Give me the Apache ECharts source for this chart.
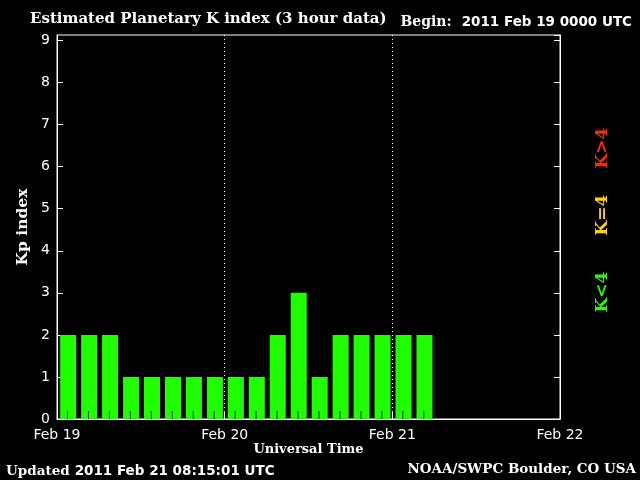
<!DOCTYPE html>
<html>
<head>
<meta charset="utf-8">
<script src="https://cdn.jsdelivr.net/npm/echarts@6/dist/echarts.min.js"></script>
<style>html,body{margin:0;padding:0;background:#000;}#chart{width:640px;height:480px;}</style>
</head>
<body>
<div id="chart"></div>
<script>
// ---- data ----
const dayLabels = ['Feb 19', 'Feb 20', 'Feb 21', 'Feb 22'];
const barStartHours = [0, 3, 6, 9, 12, 15, 18, 21, 24, 27, 30, 33, 36, 39, 42, 45, 48, 51];
const kpValues = [2, 2, 2, 1, 1, 1, 1, 1, 1, 1, 2, 3, 1, 2, 2, 2, 2, 2];
const yTicks = [0, 1, 2, 3, 4, 5, 6, 7, 8, 9];
const titleText = 'Estimated Planetary K index (3 hour data)';
const beginText = '2011 Feb 19 0000 UTC';
const updatedText = '2011 Feb 21 08:15:01 UTC';
const creditText = 'NOAA/SWPC Boulder, CO USA';

const GREEN = '#20ff00', YELLOW = '#ffd200', RED = '#ff2a00';
const SERIF = 'DejaVu Serif';
const SANS = 'DejaVu Sans';

function kColor(v) { return v > 4 ? RED : (v === 4 ? YELLOW : GREEN); }

const barData = kpValues.map((v, i) => ({
  value: [barStartHours[i] + 1.6, v],
  itemStyle: { color: kColor(v) }
}));
const tickData = kpValues.map((v, i) => [barStartHours[i] + 1.5, 0]);

const chart = echarts.init(document.getElementById('chart'), null, { renderer: 'canvas' });
const yAxisBase = {
  type: 'value', min: 0, max: 9.13, interval: 1,
  axisLine: { show: true, onZero: false, lineStyle: { color: '#fff', width: 1 } },
  axisTick: { show: true, inside: true, length: 6, lineStyle: { color: '#fff' } },
  splitLine: { show: false }
};
chart.setOption({
  backgroundColor: '#000',
  animation: false,
  title: [
    { text: titleText, left: 25, top: 7, textStyle: { color: '#fff', fontFamily: SERIF, fontWeight: 'bold', fontSize: 15 } },
    { text: '{b|Begin:}  {n|' + beginText + '}', right: 3, top: 8,
      textStyle: { rich: {
        b: { color: '#fff', fontFamily: SERIF, fontWeight: 'bold', fontSize: 14 },
        n: { color: '#fff', fontFamily: SANS, fontSize: 13.5 } } } },
    { text: '{b|Updated} {n|' + updatedText + '}', left: 1, top: 457,
      textStyle: { rich: {
        b: { color: '#fff', fontFamily: SERIF, fontWeight: 'bold', fontSize: 13.5 },
        n: { color: '#fff', fontFamily: SANS, fontSize: 13.5 } } } },
    { text: creditText, right: -1, top: 457, textStyle: { color: '#fff', fontFamily: SERIF, fontWeight: 'bold', fontSize: 13.5 } }
  ],
  grid: { left: 57, right: 80, top: 35, bottom: 61, show: true, borderColor: '#fff', borderWidth: 1, backgroundColor: 'transparent' },
  xAxis: {
    type: 'value', min: 0, max: 72, interval: 24,
    axisLine: { show: true, onZero: false, lineStyle: { color: '#fff' } },
    axisTick: { show: true, inside: true, length: 8, lineStyle: { color: '#fff' } },
    axisLabel: { color: '#fff', fontFamily: SANS, fontSize: 14, margin: 9,
      formatter: v => dayLabels[Math.round(v / 24)] },
    splitLine: { show: true, lineStyle: { color: '#fff', type: [1, 3], width: 1 } },
    name: 'Universal Time', nameLocation: 'middle', nameGap: 24, nameMoveOverlap: false,
    nameTextStyle: { color: '#fff', fontFamily: SERIF, fontWeight: 'bold', fontSize: 13 }
  },
  yAxis: [
    Object.assign({}, yAxisBase, {
      position: 'left',
      axisLabel: { color: '#fff', fontFamily: SANS, fontSize: 14, margin: 7, showMaxLabel: false,
        formatter: v => (yTicks.indexOf(v) >= 0 ? String(v) : '') },
      name: 'Kp index', nameLocation: 'middle', nameGap: 26, nameRotate: 90, nameMoveOverlap: false,
      nameTextStyle: { color: '#fff', fontFamily: SERIF, fontWeight: 'bold', fontSize: 15.5 }
    }),
    Object.assign({}, yAxisBase, { position: 'right', axisLabel: { show: false } })
  ],
  series: [
    { type: 'bar', data: barData, barWidth: 16, z: 2 },
    { type: 'scatter', data: tickData, symbol: 'rect', symbolSize: [1, 8], symbolOffset: [0, -4],
      itemStyle: { color: '#000' }, z: 3, silent: true }
  ],
  graphic: [
    { type: 'text', x: 603, y: 148, rotation: Math.PI / 2,
      style: { text: 'K>4', fill: RED, font: 'bold 17px "DejaVu Serif"', textAlign: 'center', textVerticalAlign: 'middle' } },
    { type: 'text', x: 603, y: 215, rotation: Math.PI / 2,
      style: { text: 'K=4', fill: YELLOW, font: 'bold 17px "DejaVu Serif"', textAlign: 'center', textVerticalAlign: 'middle' } },
    { type: 'text', x: 603, y: 292, rotation: Math.PI / 2,
      style: { text: 'K<4', fill: GREEN, font: 'bold 17px "DejaVu Serif"', textAlign: 'center', textVerticalAlign: 'middle' } }
  ]
});
</script>
</body>
</html>
